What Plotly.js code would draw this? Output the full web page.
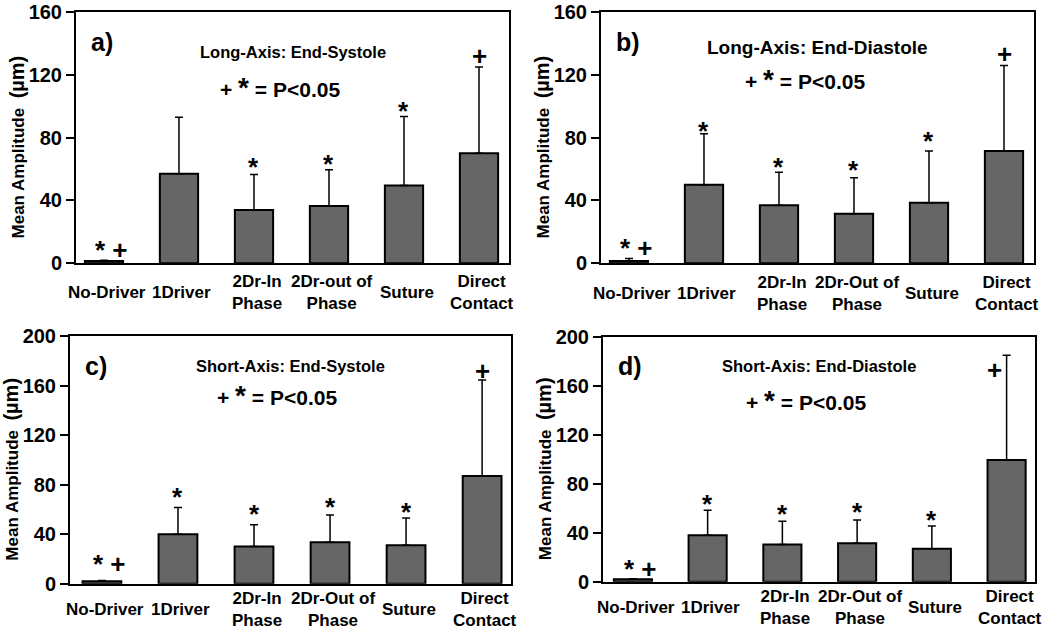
<!DOCTYPE html>
<html>
<head>
<meta charset="utf-8">
<script src="https://cdn.plot.ly/plotly-3.0.1.min.js"></script>
<style>html,body{margin:0;padding:0;background:#fff}#chart{width:1050px;height:636px}</style>
</head>
<body>
<div id="chart"></div>
<script>
// ---- data ----
var labelsLongSys = ['No-Driver', '1Driver', '2Dr-In<br>Phase', '2Dr-out of<br>Phase', 'Suture', 'Direct<br>Contact'];
var labelsOther   = ['No-Driver', '1Driver', '2Dr-In<br>Phase', '2Dr-Out of<br>Phase', 'Suture', 'Direct<br>Contact'];
var groupIndex = [0, 1, 2, 3, 4, 5];

var meanA = [1.5, 57, 34, 36.5, 49.5, 70];
var errA  = [0.5, 36, 22.5, 23, 44, 55];
var meanB = [1.5, 50, 37, 31.5, 38.5, 71.5];
var errB  = [1.5, 32.5, 21, 23, 33, 54.5];
var meanC = [2, 40, 30, 33.5, 31, 87];
var errC  = [0.5, 21.5, 17.5, 22, 22, 77.5];
var meanD = [2, 38, 30.5, 31.5, 27, 99.5];
var errD  = [0.5, 20.5, 19, 19, 18.5, 85.5];

var sigTextA = ['* +', '', '*', '*', '*', '+'];
var sigYA    = [11.7, null, 64.8, 66.1, 100, 133.3];
var sigTextB = ['* +', '*', '*', '*', '*', '+'];
var sigYB    = [13, 87.2, 64.8, 62.9, 80.8, 134.6];
var sigTextC = ['* +', '*', '*', '*', '*', '+'];
var sigYC    = [19.7, 73.7, 60.2, 65.6, 62.3, 173.5];
var sigTextD = ['* +', '*', '*', '*', '*', '+'];
var sigYD    = [14.2, 67.3, 59.1, 61.3, 54.2, 175];

var panelLetters = ['a)', 'b)', 'c)', 'd)'];
var panelTitles = ['Long-Axis: End-Systole', 'Long-Axis: End-Diastole', 'Short-Axis: End-Systole', 'Short-Axis: End-Diastole'];
var sigNote = '+ <span style="font-size:28px">*</span> = P&lt;0.05';
var yTitle = 'Mean Amplitude&nbsp; <span style="font-size:20px">(µm)</span>&nbsp;&nbsp;&nbsp;&nbsp;';
var yTicksLong = [0, 40, 80, 120, 160];
var yTicksShort = [0, 40, 80, 120, 160, 200];

// ---- styling ----
var FONT = 'Liberation Sans, Arial, sans-serif';
var BAR_COLOR = '#666666';

var panels = [
  {mean: meanA, err: errA, labels: labelsLongSys, sigT: sigTextA, sigY: sigYA, ticks: yTicksLong, ymax: 160,
   xd: [76/1050, 509/1050], yd: [1-263.3/636, 1-12/636], xr: [-0.373, 5.4], titleSize: 16.5, titleY: 0.84, noteY: 0.70, labShift: -29},
  {mean: meanB, err: errB, labels: labelsOther, sigT: sigTextB, sigY: sigYB, ticks: yTicksLong, ymax: 160,
   xd: [601/1050, 1034/1050], yd: [1-263.3/636, 1-12/636], xr: [-0.373, 5.4], titleSize: 19, titleY: 0.86, noteY: 0.73, labShift: -30},
  {mean: meanC, err: errC, labels: labelsOther, sigT: sigTextC, sigY: sigYC, ticks: yTicksShort, ymax: 200,
   xd: [70/1050, 511/1050], yd: [1-583.7/636, 1-336/636], xr: [-0.42, 5.38], titleSize: 16.5, titleY: 0.88, noteY: 0.76, labShift: -26},
  {mean: meanD, err: errD, labels: labelsOther, sigT: sigTextD, sigY: sigYD, ticks: yTicksShort, ymax: 200,
   xd: [603/1050, 1035/1050], yd: [1-581.7/636, 1-337/636], xr: [-0.4, 5.38], titleSize: 16.5, titleY: 0.88, noteY: 0.74, labShift: -26}
];

var data = [];
var layout = {
  width: 1050, height: 636,
  margin: {l: 0, r: 0, t: 0, b: 0},
  paper_bgcolor: '#ffffff', plot_bgcolor: '#ffffff',
  showlegend: false,
  font: {family: FONT, color: '#000', size: 16},
  annotations: []
};

panels.forEach(function (p, i) {
  var n = i + 1;
  var xa = n === 1 ? 'x' : 'x' + n;
  var ya = n === 1 ? 'y' : 'y' + n;
  var xk = n === 1 ? 'xaxis' : 'xaxis' + n;
  var yk = n === 1 ? 'yaxis' : 'yaxis' + n;
  data.push({
    type: 'bar', x: groupIndex, y: p.mean, xaxis: xa, yaxis: ya,
    width: 0.51,
    marker: {color: BAR_COLOR, line: {color: '#000', width: 2}},
    error_y: {type: 'data', symmetric: false, array: p.err, arrayminus: p.err.map(function () { return 0; }),
              color: '#000', thickness: 1.5, width: 4},
    hoverinfo: 'skip'
  });
  layout[xk] = {
    domain: p.xd, anchor: ya, range: p.xr, fixedrange: true,
    tickvals: groupIndex, ticktext: p.labels, ticks: '', showticklabels: false,
    showline: true, linecolor: '#000', linewidth: 2, mirror: true,
    showgrid: false, zeroline: false
  };
  layout[yk] = {
    domain: p.yd, anchor: xa, range: [0, p.ymax], fixedrange: true,
    tickvals: p.ticks, ticks: 'outside', ticklen: 8, tickwidth: 2, tickcolor: '#000',
    showline: true, linecolor: '#000', linewidth: 2, mirror: true,
    showgrid: false, zeroline: false,
    tickfont: {family: FONT, size: 20, color: '#000', weight: 'bold'},
    title: {text: yTitle, font: {family: FONT, size: 17, color: '#000', weight: 'bold'}, standoff: 0}
  };
  // category labels, vertically centred under the axis as in the original
  groupIndex.forEach(function (k) {
    layout.annotations.push({xref: xa, yref: ya + ' domain', x: k, y: 0, xanchor: 'center', yanchor: 'middle',
      xshift: 3, yshift: p.labShift, showarrow: false, text: p.labels[k],
      font: {family: FONT, size: 17, color: '#000', weight: 'bold'}});
  });
  // panel letter
  layout.annotations.push({xref: xa + ' domain', yref: ya + ' domain', x: 0.03, y: 0.88,
    xanchor: 'left', yanchor: 'middle', showarrow: false, text: panelLetters[i],
    font: {family: FONT, size: 25, color: '#000', weight: 'bold'}});
  // panel title
  layout.annotations.push({xref: xa + ' domain', yref: ya + ' domain', x: 0.5, y: p.titleY,
    xanchor: 'center', yanchor: 'middle', showarrow: false, text: panelTitles[i],
    font: {family: FONT, size: p.titleSize, color: '#000', weight: 'bold'}});
  // significance legend
  layout.annotations.push({xref: xa + ' domain', yref: ya + ' domain', x: 0.47, y: p.noteY,
    xanchor: 'center', yanchor: 'middle', showarrow: false, text: sigNote,
    font: {family: FONT, size: 21, color: '#000', weight: 'bold'}});
  // significance markers
  groupIndex.forEach(function (k) {
    if (!p.sigT[k]) return;
    var isPlus = p.sigT[k] === '+';
    var xs = 0;
    if (k === 0) xs = 8;
    if (i === 3 && k === 5) xs = -12;
    layout.annotations.push({xref: xa, yref: ya, x: k, y: p.sigY[k], xanchor: 'center', yanchor: 'middle',
      xshift: xs, yshift: isPlus ? -2 : -5,
      showarrow: false, text: p.sigT[k], font: {family: FONT, size: 26, color: '#000', weight: 'bold'}});
  });
});

Plotly.newPlot('chart', data, layout, {displayModeBar: false, staticPlot: true});
</script>
</body>
</html>
